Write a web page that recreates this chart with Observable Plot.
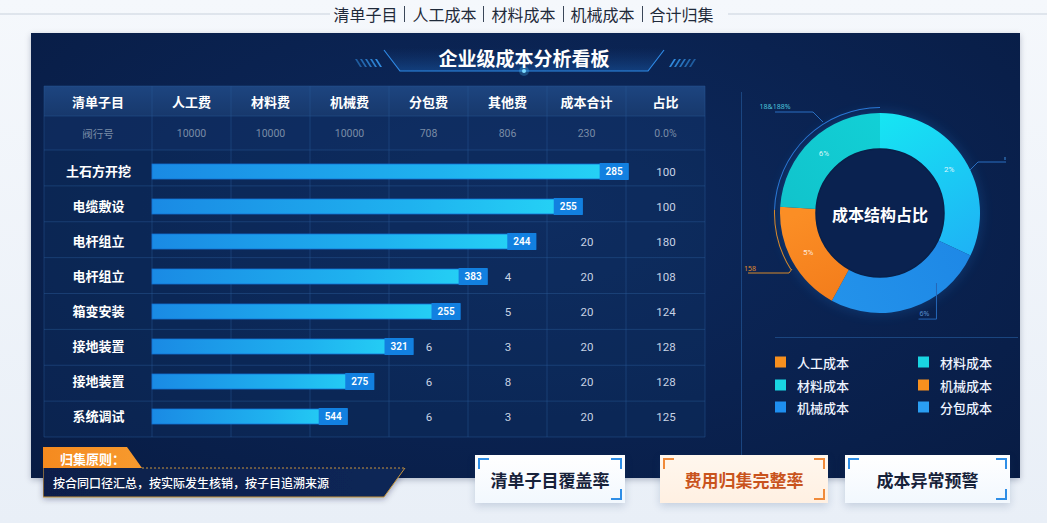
<!DOCTYPE html>
<html><head><meta charset="utf-8">
<script src="https://cdn.jsdelivr.net/npm/d3@7"></script>
<script src="https://cdn.jsdelivr.net/npm/@observablehq/plot@0.6"></script>
<style>
html,body{margin:0;padding:0;}
body{width:1047px;height:523px;overflow:hidden;position:relative;background:linear-gradient(180deg,#f5f8fc 0%,#e9eff7 100%);font-family:"Noto Sans CJK SC","Noto Sans",sans-serif;}
.abs{position:absolute;}
#panel{left:31px;top:33px;width:989px;height:445px;background:radial-gradient(ellipse at 50% 40%,#0d2a5e 0%,#0a2250 55%,#081c44 100%);box-shadow:0 2px 6px rgba(0,20,60,.25);}
#topTitle{left:0;top:0;width:1047px;height:28px;display:flex;align-items:center;justify-content:center;font-size:16px;color:#1f2a3a;}
#topTitle .sep{display:inline-block;width:1px;height:16px;background:#3a4658;margin:0 7px;}
.hdr{position:absolute;color:#fff;font-weight:700;font-size:13px;transform:translate(-50%,-50%);white-space:nowrap;}
.sub{position:absolute;color:#7a8ca6;font-size:10.5px;transform:translate(-50%,-50%);white-space:nowrap;font-family:Roboto,"Noto Sans CJK SC",sans-serif;}
svg.overlay{position:absolute;left:0;top:0;pointer-events:none;}
.leg{position:absolute;color:#eef4ff;font-size:13px;font-weight:500;display:flex;align-items:center;transform:translateY(-50%);}
.leg i{display:inline-block;width:11px;height:11px;margin-right:11px;}
.card{position:absolute;top:455px;height:48px;display:flex;align-items:center;justify-content:center;font-size:17px;font-weight:700;box-shadow:0 3px 8px rgba(30,60,110,.18);}
.card b{position:absolute;width:9px;height:9px;border-style:solid;border-width:0;}
</style></head><body>
<div id="topTitle" class="abs"></div>
<div id="panel" class="abs"></div>
<svg id="deco" class="overlay" width="1047" height="523"></svg>
<div id="tableHead"></div>
<div id="tablePlot"></div>
<div id="donutPlot" class="abs" style="left:730px;top:73px;"></div>
<div id="legend"></div>
<div id="notes"></div>
<script>
// ---------------- data ----------------
const topItems = ["清单子目","人工成本","材料成本","机械成本","合计归集"];
const dashTitle = "企业级成本分析看板";
const columns = ["清单子目","人工费","材料费","机械费","分包费","其他费","成本合计","占比"];
const subRow = ["阀行号","10000","10000","10000","708","806","230","0.0%"];
const items = ["土石方开挖","电缆敷设","电杆组立","电杆组立","箱变安装","接地装置","接地装置","系统调试"];
const barLength = [86.1,77.8,69.4,60.6,55.7,47.2,40.1,35.3];
const barLabels = ["285","255","244","383","255","321","275","544"];
const subcontractFee = [null,null,null,null,null,6,6,6];
const otherFee = [null,null,null,4,5,3,8,3];
const totalCost = [null,null,20,20,20,20,20,20];
const ratio = [100,100,180,108,124,128,128,125];
const sliceNames = ["材料成本","机械成本","人工成本","分包成本"];
const sliceValues = [32,26,18,24];
const sliceLabels = ["2%","6%","5%","6%"];
const donutCenter = "成本结构占比";
const legendNames = ["人工成本","材料成本","材料成本","机械成本","机械成本","分包成本"];
const ruleTag = "归集原则：";
const ruleText = "按合同口径汇总，按实际发生核销，按子目追溯来源";
const cards = ["清单子目覆盖率","费用归集完整率","成本异常预警"];

// ---------------- styles / layout ----------------
const legendColors = ["#f7901e","#19d5e2","#19d5e2","#f7901e","#1e8ff0","#2a9ef2"];
const sliceColors = ["url(#sg0)","url(#sg1)","url(#sg2)","url(#sg3)"];
const tableLeft = 44, frameL = 152, frameR = 705, headTop = 86, subTop = 116, bodyTop = 150, bodyBottom = 437;
const colW = (frameR - frameL) / 7;
const colBounds = [tableLeft].concat(d3.range(8).map(k => frameL + k * colW));
const colCenters = d3.range(8).map(k => (colBounds[k] + colBounds[k+1]) / 2);

// top title
const tt = document.getElementById("topTitle");
topItems.forEach((t,i) => {
  if (i) { const s = document.createElement("span"); s.className = "sep"; tt.appendChild(s); }
  const e = document.createElement("span"); e.textContent = t; tt.appendChild(e);
});

// decorations
const deco = d3.select("#deco");
const defs = deco.append("defs");
const gl = defs.append("linearGradient").attr("id","lineL");
gl.append("stop").attr("offset","0").attr("stop-color","#2f86e0").attr("stop-opacity",0.1);
gl.append("stop").attr("offset","1").attr("stop-color","#3a9af0").attr("stop-opacity",0.9);
const gr = defs.append("linearGradient").attr("id","lineR");
gr.append("stop").attr("offset","0").attr("stop-color","#3a9af0").attr("stop-opacity",0.9);
gr.append("stop").attr("offset","1").attr("stop-color","#2f86e0").attr("stop-opacity",0.1);
const gh = defs.append("linearGradient").attr("id","hdrG").attr("x1",0).attr("x2",0).attr("y1",0).attr("y2",1);
gh.append("stop").attr("offset","0").attr("stop-color","#1d4580");
gh.append("stop").attr("offset","1").attr("stop-color","#17386c");
const gf = defs.append("linearGradient").attr("id","frameG").attr("x1",0).attr("x2",0).attr("y1",0).attr("y2",1);
gf.append("stop").attr("offset","0").attr("stop-color","#1a4f95").attr("stop-opacity",0);
gf.append("stop").attr("offset","1").attr("stop-color","#1a5fb0").attr("stop-opacity",0.45);
deco.append("line").attr("x1",0).attr("x2",330).attr("y1",14).attr("y2",14).attr("stroke","#c9d2dd");
deco.append("line").attr("x1",728).attr("x2",1047).attr("y1",14).attr("y2",14).attr("stroke","#c9d2dd");
deco.append("line").attr("x1",40).attr("x2",350).attr("y1",62.5).attr("y2",62.5).attr("stroke","url(#lineL)").attr("stroke-width",1.2);
deco.append("line").attr("x1",694).attr("x2",1016).attr("y1",62.5).attr("y2",62.5).attr("stroke","url(#lineR)").attr("stroke-width",1.2);
d3.range(5).forEach(k => {
  const x = 355 + k*5;
  deco.append("polygon").attr("points",`${x},59 ${x+2},59 ${x+7},67 ${x+5},67`).attr("fill","#3597ee").attr("opacity",0.5+k*0.1);
  const xr = 669 + k*5;
  deco.append("polygon").attr("points",`${xr+5},59 ${xr+7},59 ${xr+2},67 ${xr},67`).attr("fill","#3597ee").attr("opacity",0.9-k*0.1);
});
deco.append("polygon").attr("points","384,48 400,71 648,71 664,48").attr("fill","url(#frameG)");
deco.append("polyline").attr("points","384,50 400,71 648,71 664,50").attr("fill","none").attr("stroke","#2f8ae6").attr("stroke-width",1.2);
deco.append("circle").attr("cx",524).attr("cy",71).attr("r",5).attr("fill","#4fc8ff").attr("opacity",0.25);
deco.append("circle").attr("cx",524).attr("cy",71).attr("r",2).attr("fill","#7fdcff");
deco.append("text").attr("x",524).attr("y",57).attr("text-anchor","middle").attr("dominant-baseline","central")
  .attr("fill","#fff").attr("font-size",19).attr("font-weight",700).text(dashTitle);
deco.append("rect").attr("x",tableLeft).attr("y",headTop).attr("width",frameR-tableLeft).attr("height",subTop-headTop).attr("fill","url(#hdrG)");
deco.append("rect").attr("x",tableLeft).attr("y",subTop).attr("width",frameR-tableLeft).attr("height",bodyTop-subTop).attr("fill","#12336a").attr("opacity",0.55);
deco.append("rect").attr("x",tableLeft).attr("y",bodyTop).attr("width",frameR-tableLeft).attr("height",bodyBottom-bodyTop).attr("fill","#123468").attr("opacity",0.3);
colBounds.forEach(x => deco.append("line").attr("x1",x).attr("x2",x).attr("y1",headTop).attr("y2",bodyBottom).attr("stroke","#2a5a96").attr("stroke-opacity",0.45));
const rowH = (bodyBottom - bodyTop) / items.length;
[headTop, subTop, bodyTop].concat(d3.range(1, items.length+1).map(i => bodyTop + i*rowH)).forEach(y =>
  deco.append("line").attr("x1",tableLeft).attr("x2",frameR).attr("y1",y).attr("y2",y).attr("stroke","#2a5a96").attr("stroke-opacity",0.45));
deco.append("line").attr("x1",741.5).attr("x2",741.5).attr("y1",92).attr("y2",470).attr("stroke","#1f4f8c").attr("stroke-opacity",0.8);
deco.append("line").attr("x1",775).attr("x2",1018).attr("y1",337.5).attr("y2",337.5).attr("stroke","#1f4f8c").attr("stroke-opacity",0.8);

// table header text
const th = document.getElementById("tableHead");
columns.forEach((c,k) => {
  const e = document.createElement("div"); e.className = "hdr"; e.textContent = c;
  e.style.left = colCenters[k] + "px"; e.style.top = "101px"; th.appendChild(e);
  const s = document.createElement("div"); s.className = "sub"; s.textContent = subRow[k];
  s.style.left = colCenters[k] + "px"; s.style.top = "133px"; th.appendChild(s);
});

// ---------------- main table plot ----------------
const rows = d3.range(items.length);
const colX = k => (k + 0.5) * 100 / 7;
const cells = [];
rows.forEach(i => {
  [[3, subcontractFee],[4, otherFee],[5, totalCost],[6, ratio]].forEach(([col, arr]) => {
    if (arr[i] != null) cells.push({i, col, v: arr[i]});
  });
});
function barDefs() {
  const d = d3.create("svg:defs");
  const g = d.append("linearGradient").attr("id","barGrad");
  g.append("stop").attr("offset","0").attr("stop-color","#1a8ae4");
  g.append("stop").attr("offset","0.6").attr("stop-color","#1fb2ef");
  g.append("stop").attr("offset","1").attr("stop-color","#26d6f6");
  return d.node();
}
const plot = Plot.plot({
  width: 1047, height: 523,
  marginLeft: frameL, marginRight: 1047 - frameR, marginTop: bodyTop, marginBottom: 523 - bodyBottom,
  x: {domain: [0, 100], axis: null},
  y: {domain: rows, axis: null, padding: 0},
  style: {background: "transparent", overflow: "visible"},
  marks: [
    barDefs,
    Plot.barX(rows, {x: i => barLength[i], y: i => i, fill: "url(#barGrad)", insetTop: 10, insetBottom: 10, stroke: "#1270d4", strokeWidth: 0.8}),
    Plot.tickX(rows, {x: i => barLength[i], y: i => i, stroke: "#1280e0", strokeWidth: 29, dx: -14.5, insetTop: 9, insetBottom: 9}),
    Plot.text(rows, {x: i => barLength[i], y: i => i, text: i => barLabels[i], dx: -14.5, fill: "#ffffff", fontSize: 10, fontWeight: 600, fontFamily: "Roboto"}),
    Plot.text(cells, {x: d => colX(d.col), y: d => d.i, text: d => String(d.v), fill: "#c8d3e4", fontSize: 11.5, fontFamily: "Roboto"}),
    Plot.text(rows, {frameAnchor: "left", textAnchor: "middle", y: i => i, text: i => items[i], dx: colCenters[0] - frameL, fill: "#ffffff", fontSize: 13, fontWeight: 700, fontFamily: "Noto Sans CJK SC"})
  ]
});
plot.classList.add("overlay");
document.getElementById("tablePlot").appendChild(plot);

// ---------------- donut plot ----------------
let colorScale;
try { colorScale = Plot.scale({color: {type: "ordinal", domain: sliceNames, range: sliceColors}}); } catch (e) { colorScale = null; }
const colorOf = name => colorScale && colorScale.apply ? colorScale.apply(name) : sliceColors[sliceNames.indexOf(name)];
function donutMark(index, scales, values, dimensions) {
  const W = (dimensions && dimensions.width) || 300, H = (dimensions && dimensions.height) || 280;
  const R = 100, r = 64;
  const g = d3.create("svg:g").attr("transform", `translate(${W/2},${H/2})`);
  const df = g.append("defs");
  const mk = (id, x1, y1, x2, y2, c1, c2) => {
    const lg = df.append("linearGradient").attr("id", id).attr("gradientUnits","userSpaceOnUse")
      .attr("x1",x1).attr("y1",y1).attr("x2",x2).attr("y2",y2);
    lg.append("stop").attr("offset",0).attr("stop-color",c1);
    lg.append("stop").attr("offset",1).attr("stop-color",c2);
  };
  mk("sg0", 0, -100, 90, 50, "#16e6f3", "#1fb0f5");
  mk("sg1", 90, 40, -40, 100, "#1e88e6", "#2392ea");
  mk("sg2", -80, 0, -40, 90, "#fb8e25", "#f37c1b");
  mk("sg3", -90, -10, 0, -100, "#11c4cc", "#12d0d6");
  const flt = df.append("filter").attr("id","glow").attr("x","-30%").attr("y","-30%").attr("width","160%").attr("height","160%");
  flt.append("feGaussianBlur").attr("stdDeviation",6);
  g.append("circle").attr("r", R+2).attr("fill","#1a7fd8").attr("opacity",0.22).attr("filter","url(#glow)");
  g.append("path").attr("d", d3.arc()({innerRadius:105, outerRadius:106, startAngle: -Math.PI*0.49, endAngle: 0})).attr("fill","#2a78d6");
  g.append("path").attr("d", d3.arc()({innerRadius:105, outerRadius:106, startAngle: -Math.PI*0.68, endAngle: -Math.PI*0.49})).attr("fill","#d88a2a");
  const pie = d3.pie().sort(null).value(d => d.v)(sliceNames.map((n,i) => ({n, v: sliceValues[i], l: sliceLabels[i]})));
  const arc = d3.arc().innerRadius(r).outerRadius(R);
  g.selectAll("path.s").data(pie).join("path").attr("class","s").attr("d", arc).attr("fill", d => colorOf(d.data.n));
  g.append("circle").attr("r", r).attr("fill","#0a2250").attr("stroke","#08204a").attr("stroke-width",1.5);
  pie.forEach((d,i) => {
    const [x,y] = arc.centroid(d);
    if (i === 1) {
      const px = Math.sin((d.startAngle+d.endAngle)/2 - 0.3) * (R-2), py = -Math.cos((d.startAngle+d.endAngle)/2 - 0.3) * (R-2);
      g.append("polyline").attr("points", `${px},${py-10} ${px},${py+26} ${px-18},${py+26}`).attr("fill","none").attr("stroke","#2466b8").attr("stroke-width",1);
      g.append("text").attr("x", px-12).attr("y", py+23).attr("text-anchor","middle").attr("fill","#5a8fd0").attr("font-size",7).text(d.data.l);
    } else {
      g.append("text").attr("x", x).attr("y", y).attr("text-anchor","middle").attr("dominant-baseline","central")
        .attr("fill","#ffffff").attr("fill-opacity",0.85).attr("font-size",8).attr("font-family","Roboto").text(d.data.l);
    }
  });
  g.append("polyline").attr("points","-105,-101 -67,-101 -57,-91").attr("fill","none").attr("stroke","#2a6fc2");
  g.append("text").attr("x",-105).attr("y",-104).attr("fill","#4cc2d8").attr("font-size",7).text("18&188%");
  g.append("polyline").attr("points","90,-43 98,-51 126,-51").attr("fill","none").attr("stroke","#2a6fc2");
  g.append("line").attr("x1",125).attr("x2",125).attr("y1",-56).attr("y2",-53).attr("stroke","#3b8ad8");
  g.append("polyline").attr("points","-132,60 -91,60 -88,56").attr("fill","none").attr("stroke","#d88a2a");
  g.append("text").attr("x",-130).attr("y",58).attr("fill","#e08c2c").attr("font-size",7).text("158");
  g.append("text").attr("x",0).attr("y",1).attr("text-anchor","middle").attr("dominant-baseline","central")
    .attr("fill","#ffffff").attr("font-size",16).attr("font-weight",700).attr("font-family","Noto Sans CJK SC").text(donutCenter);
  return g.node();
}
const donut = Plot.plot({width: 300, height: 280, margin: 0, style: {background: "transparent", overflow: "visible"}, marks: [donutMark]});
document.getElementById("donutPlot").appendChild(donut);

// ---------------- legend ----------------
const lg = document.getElementById("legend");
legendNames.forEach((n,i) => {
  const e = document.createElement("div"); e.className = "leg";
  e.style.left = (i % 2 ? 918 : 775) + "px"; e.style.top = (362 + Math.floor(i/2) * 22.5) + "px";
  e.innerHTML = `<i style="background:${legendColors[i]}"></i>${n}`;
  lg.appendChild(e);
});

// ---------------- notes / cards ----------------
const notes = document.getElementById("notes");
notes.innerHTML = `
<svg class="overlay" width="1047" height="523" style="z-index:2">
  <defs>
    <linearGradient id="tagG" x1="0" x2="1"><stop offset="0" stop-color="#f58a1f"/><stop offset="1" stop-color="#f79a2e"/></linearGradient>
    <linearGradient id="boxG" x1="0" x2="1"><stop offset="0" stop-color="#0b1f4a"/><stop offset="1" stop-color="#0e2657"/></linearGradient>
    <filter id="sh" x="-10%" y="-30%" width="120%" height="160%"><feDropShadow dx="0" dy="2" stdDeviation="3" flood-color="#0a1a3a" flood-opacity="0.35"/></filter>
  </defs>
  <polygon points="43,468 405,468 384,497 43,497" fill="url(#boxG)" filter="url(#sh)"/>
  <polyline points="142,468 405,468" stroke="#c9953c" stroke-dasharray="2,2" fill="none"/>
  <polyline points="405,468 384,497 43,497" stroke="#c9953c" fill="none"/>
  <line x1="43.5" y1="468" x2="43.5" y2="497" stroke="#c9953c" stroke-opacity="0.6"/>
  <polygon points="43,447 127,447 142,468 43,468" fill="url(#tagG)"/>
  <text x="60" y="458" dominant-baseline="central" fill="#fff" font-size="13" font-weight="700">${ruleTag}</text>
  <text x="53" y="482.5" dominant-baseline="central" fill="#fff" font-size="12" font-weight="500">${ruleText}</text>
</svg>`;
const cardDefs = [
  {left: 475, width: 150, bg: "linear-gradient(180deg,#ffffff,#f2f8fe)", color: "#17223a", br: "#2f8ee6"},
  {left: 660, width: 168, bg: "linear-gradient(180deg,#fff7ee,#fff0e2)", color: "#c9531d", br: "#f08a3a"},
  {left: 845, width: 165, bg: "linear-gradient(180deg,#ffffff,#f2f8fe)", color: "#17223a", br: "#2f8ee6"}
];
cards.forEach((t,i) => {
  const c = cardDefs[i];
  const e = document.createElement("div"); e.className = "card";
  e.style.cssText += `left:${c.left}px;width:${c.width}px;background:${c.bg};color:${c.color};z-index:3;`;
  e.textContent = t;
  [["left:3px;top:3px;","border-left-width:2px;border-top-width:2px;"],
   ["right:3px;top:3px;","border-right-width:2px;border-top-width:2px;"],
   ["right:3px;bottom:3px;","border-right-width:2px;border-bottom-width:2px;"]].forEach(([pos, bw]) => {
    const b = document.createElement("b"); b.style.cssText = pos + bw + `border-color:${c.br};`; e.appendChild(b);
  });
  notes.appendChild(e);
});
</script>
</body></html>
